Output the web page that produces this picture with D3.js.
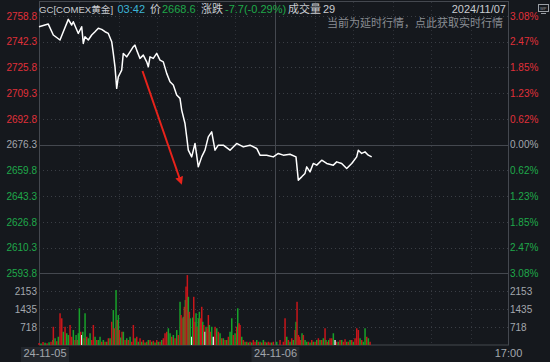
<!DOCTYPE html>
<html><head><meta charset="utf-8">
<script src="https://cdn.jsdelivr.net/npm/d3@7"></script>
<style>
html,body{margin:0;padding:0;background:#15181d;}
svg{display:block;font-family:"Liberation Sans","Noto Sans CJK SC",sans-serif;}
</style></head>
<body>
<svg id="chart" width="550" height="362"></svg>
<script>
// ---------- data ----------
const prevClose = 2676.3;
const priceTicks = [2758.8, 2742.3, 2725.8, 2709.3, 2692.8, 2676.3, 2659.8, 2643.3, 2626.8, 2610.3, 2593.8];
const pctLabels = ["3.08%", "2.47%", "1.85%", "1.23%", "0.62%", "0.00%", "0.62%", "1.23%", "1.85%", "2.47%", "3.08%"];
const volTicks = [2153, 1435, 718];
const dateLabels = ["24-11-05", "24-11-06", "17:00"];
const dateSlots = [0, 236, 469];

// price series: slot index (≈6 min per slot) and price
const priceSlot = [0, 9.3, 14.3, 21, 24.3, 29.3, 32.7, 34.3, 39.3, 42.7, 44.3, 46, 49.3, 52.7, 56, 59.3, 62.7, 66, 69.3, 72.7, 74.3, 76, 77.7, 79.3, 82.7, 84.3, 87.7, 91, 94.3, 96, 97.7, 101, 104.3, 107.7, 109.3, 111, 114.3, 117.7, 121, 124.3, 127.7, 131, 134.3, 137.7, 141, 142.7, 146, 147.7, 149.3, 152.7, 156, 159.3, 162.7, 166, 169.3, 172.7, 176, 179.3, 184.3, 191, 197.7, 204.3, 211, 217.7, 221, 227.7, 234.3, 239.3, 244.3, 251, 257, 259.3, 262.7, 266, 267.7, 271, 274.3, 277.7, 282.7, 287.7, 294.3, 297.7, 302.7, 307.7, 312.7, 317.7, 319.3, 322.7, 326, 329.3, 332.7];
const priceVal = [2751.8, 2753.5, 2746.5, 2743.3, 2748.6, 2756.5, 2752.9, 2755.0, 2747.5, 2751.8, 2741.1, 2745.4, 2743.3, 2746.5, 2748.6, 2750.8, 2750.1, 2748.6, 2747.5, 2742.2, 2734.7, 2726.1, 2712.3, 2719.7, 2724.0, 2734.7, 2732.5, 2735.7, 2739.0, 2740.0, 2736.8, 2731.5, 2733.6, 2729.3, 2726.1, 2732.5, 2731.5, 2734.7, 2730.4, 2729.3, 2721.9, 2716.5, 2714.4, 2708.0, 2705.9, 2698.4, 2689.8, 2681.2, 2672.7, 2668.4, 2677.0, 2662.0, 2668.4, 2672.7, 2681.2, 2684.4, 2672.7, 2675.9, 2675.9, 2672.7, 2677.0, 2674.8, 2675.9, 2673.8, 2669.5, 2669.5, 2668.4, 2670.6, 2669.5, 2670.1, 2668.4, 2653.5, 2655.6, 2657.8, 2662.0, 2658.8, 2664.2, 2663.1, 2666.3, 2664.2, 2663.1, 2665.2, 2664.2, 2661.0, 2664.2, 2668.4, 2672.7, 2670.6, 2671.6, 2669.5, 2668.4];

// volume series: slot index, volume, direction (u = up, d = down, f = flat)
const volSlot = [0, 2, 4, 6, 8, 10, 12, 13.7, 14.3, 16, 17.7, 19.3, 21, 22.7, 24.3, 26, 27.7, 29.3, 31, 32.7, 34.3, 36, 37, 38.3, 39.3, 40.3, 41.7, 42.7, 43.7, 45, 46, 47.7, 49.3, 51, 52.7, 54.3, 56, 57.7, 59.3, 61, 62.7, 64.3, 66, 67.7, 69.3, 71, 72.7, 74.3, 75.3, 77, 78.3, 79.3, 80.3, 81.7, 83, 84.3, 86, 87.7, 89.3, 91, 92.7, 94.3, 96, 97.7, 99.3, 101, 102.7, 104.3, 106, 107.7, 109.3, 111, 112.7, 114.3, 116, 117.7, 119.3, 121, 122.7, 124.3, 126, 127.7, 129.3, 131, 132.7, 134.3, 136, 137.7, 139.3, 141, 142, 143, 144.3, 145.3, 146.3, 147, 148.3, 149.3, 150.3, 151.3, 152.7, 153.7, 154.7, 156, 157, 158, 159.3, 160.3, 161.3, 162.7, 163.7, 164.7, 166, 167, 168, 169.3, 170.3, 171.3, 172.7, 174.3, 176, 177.7, 179.3, 181, 182.7, 184.3, 186, 187.7, 189.3, 191, 192.7, 194.3, 196, 197.7, 198.7, 200, 201, 202.7, 204.3, 206, 207.7, 209.3, 211, 212.7, 214.3, 216, 217.7, 219.3, 221, 222.7, 224.3, 226, 227.7, 229.3, 231, 232.7, 234.3, 237.7, 241, 244.3, 246, 247.7, 249.3, 251, 252.7, 254.3, 256, 257, 258, 259.3, 260.3, 261.7, 263, 264.3, 266, 267.7, 269.3, 271, 272.7, 274.3, 276, 277.7, 279.3, 281, 282.7, 284.3, 286, 287, 288.3, 289.7, 291, 292.7, 294.3, 296, 297.7, 299.3, 301, 302.7, 304.3, 306, 307.7, 309.3, 311, 312.7, 314.3, 316, 317.7, 319.3, 321, 322.7, 324.3, 326, 327.7, 329.3, 331, 332.7];
const volVal = [80, 60, 120, 90, 70, 110, 130, 200, 730, 270, 150, 330, 1270, 1070, 530, 730, 470, 400, 800, 330, 600, 200, 400, 200, 470, 1470, 530, 400, 530, 270, 1270, 330, 270, 470, 200, 800, 330, 200, 200, 330, 130, 200, 130, 130, 270, 270, 930, 1400, 670, 2200, 1000, 1200, 600, 300, 530, 530, 200, 270, 200, 330, 130, 800, 270, 330, 130, 270, 130, 200, 100, 130, 200, 200, 130, 170, 100, 200, 130, 130, 200, 270, 470, 530, 670, 470, 330, 400, 270, 600, 400, 1730, 1200, 1070, 1130, 1530, 1800, 2340, 2800, 1930, 1330, 1070, 330, 1100, 1930, 930, 1270, 730, 1070, 1330, 1070, 1530, 930, 800, 530, 730, 670, 1200, 800, 530, 730, 330, 730, 670, 530, 470, 270, 270, 200, 200, 330, 530, 1070, 400, 470, 730, 1470, 870, 800, 330, 200, 130, 130, 100, 130, 100, 200, 130, 200, 130, 130, 100, 200, 130, 100, 130, 100, 100, 130, 130, 200, 130, 1070, 330, 200, 130, 270, 200, 600, 930, 1730, 400, 330, 200, 470, 400, 200, 130, 130, 100, 200, 130, 130, 200, 270, 200, 200, 270, 670, 200, 130, 200, 270, 270, 470, 200, 130, 130, 200, 200, 130, 230, 130, 130, 200, 200, 130, 270, 670, 600, 270, 200, 130, 670, 330, 270, 130];
const volDir = ["u","d","u","d","u","d","u","d","u","d","u","d","u","u","d","u","d","d","u","u","d","u","d","u","d","d","u","f","d","u","d","u","d","d","u","u","d","u","d","d","u","d","u","d","u","d","u","d","u","d","u","d","u","d","u","d","u","d","u","d","u","u","d","u","d","u","d","u","d","u","d","u","d","u","d","u","d","u","d","u","u","u","d","d","u","d","u","d","u","d","u","u","d","u","d","u","u","d","u","d","f","d","u","u","d","u","d","d","u","u","d","u","f","d","u","u","d","u","d","f","u","d","u","d","u","d","u","d","u","d","d","u","d","u","d","u","u","d","u","d","u","d","u","d","u","u","d","u","d","u","d","u","d","u","u","d","u","d","u","u","u","d","u","d","u","d","u","d","u","u","u","u","d","u","d","d","u","d","u","d","u","d","u","d","u","d","u","d","u","d","r","u","d","f","u","d","u","d","u","u","d","u","d","u","d","u","u","u","d","u","d","d","u","d","u"];

// ---------- drawing ----------
const W = 550, H = 362;
const L = 39, R = 508;
const C = {bg:"#15181d", grid:"#3a3e45", solid:"#44484f", red:"#e0303a", green:"#1fa84a", grey:"#a3a7ad", txt:"#c9ccd1"};
const svg = d3.select("#chart");
svg.append("rect").attr("width", W).attr("height", H).attr("fill", C.bg);

const x = d3.scaleLinear().domain([0, 469]).range([L, R]);
const yP = d3.scaleLinear().domain([2593.8, 2758.8]).range([273.3, 15.8]);
const yV = d3.scaleLinear().domain([0, 2871]).range([345, 273.3]);

const colorFor = v => Math.abs(v - prevClose) < 0.01 ? C.grey : (v > prevClose ? C.red : C.green);

// frame
const g = svg.append("g");
g.append("rect").attr("x", L + 0.5).attr("y", 1.5).attr("width", R - L).attr("height", 343.5)
  .attr("fill", "none").attr("stroke", C.solid).attr("stroke-width", 1);

// horizontal grid
priceTicks.forEach(v => {
  const solid = (v === prevClose || v === 2593.8);
  g.append("line").attr("x1", L).attr("x2", R)
    .attr("y1", Math.round(yP(v)) + 0.5).attr("y2", Math.round(yP(v)) + 0.5)
    .attr("stroke", solid ? C.solid : C.grid)
    .attr("stroke-dasharray", solid ? null : "1,3");
});
volTicks.forEach(v => {
  g.append("line").attr("x1", L).attr("x2", R)
    .attr("y1", Math.round(yV(v)) + 0.5).attr("y2", Math.round(yV(v)) + 0.5)
    .attr("stroke", C.grid).attr("stroke-dasharray", "1,3");
});
// vertical grid
const vDots = [40, 80, 118, 158, 196, 276, 314, 354, 392, 432];
vDots.forEach(s => {
  g.append("line").attr("x1", Math.round(x(s)) + 0.5).attr("x2", Math.round(x(s)) + 0.5)
    .attr("y1", 2).attr("y2", 345).attr("stroke", C.grid).attr("stroke-dasharray", "1,3").attr("opacity", 0.7);
});
g.append("line").attr("x1", Math.round(x(236)) + 0.5).attr("x2", Math.round(x(236)) + 0.5)
  .attr("y1", 2).attr("y2", 345).attr("stroke", C.solid);

// volume bars
const volColor = {u: "#c8161b", d: "#17a22a", f: "#e8e8e8", r: "#c8161b"};
svg.append("g").selectAll("rect").data(volSlot).join("rect")
  .attr("x", (d) => x(d) - 0.7)
  .attr("width", 1.5)
  .attr("y", (d, i) => yV(volVal[i]))
  .attr("height", (d, i) => yV(0) - yV(volVal[i]))
  .attr("fill", (d, i) => volColor[volDir[i]]);

// price line
const line = d3.line().x((d) => x(d)).y((d, i) => yP(priceVal[i])).curve(d3.curveLinear);
svg.append("path").datum(priceSlot).attr("d", line)
  .attr("fill", "none").attr("stroke", "#ffffff").attr("stroke-width", 1.5).attr("stroke-linejoin", "round");

// left price axis
const axL = svg.append("g").attr("transform", `translate(${L - 2},0)`)
  .call(d3.axisLeft(yP).tickValues(priceTicks).tickSize(0).tickPadding(0).tickFormat(d3.format(".1f")));
axL.select(".domain").remove();
axL.selectAll("text").attr("font-size", 10).attr("font-family", "Liberation Sans, sans-serif")
  .attr("fill", d => colorFor(d));

// right percent axis
const axR = svg.append("g").attr("transform", `translate(${R + 2},0)`)
  .call(d3.axisRight(yP).tickValues(priceTicks).tickSize(0).tickPadding(0).tickFormat((d, i) => pctLabels[i]));
axR.select(".domain").remove();
axR.selectAll("text").attr("font-size", 10).attr("font-family", "Liberation Sans, sans-serif")
  .attr("fill", d => colorFor(d));

// volume axes
const axVL = svg.append("g").attr("transform", `translate(${L - 2},0)`)
  .call(d3.axisLeft(yV).tickValues(volTicks).tickSize(0).tickPadding(0).tickFormat(d3.format("d")));
axVL.select(".domain").remove();
axVL.selectAll("text").attr("font-size", 10).attr("fill", C.grey);
const axVR = svg.append("g").attr("transform", `translate(${R + 2},0)`)
  .call(d3.axisRight(yV).tickValues(volTicks).tickSize(0).tickPadding(0).tickFormat(d3.format("d")));
axVR.select(".domain").remove();
axVR.selectAll("text").attr("font-size", 10).attr("fill", C.grey);

// bottom date axis
const axB = svg.append("g").attr("transform", `translate(0,346)`)
  .call(d3.axisBottom(x).tickValues(dateSlots).tickSize(0).tickPadding(3).tickFormat((d, i) => dateLabels[i]));
axB.select(".domain").remove();
axB.selectAll(".tick").each(function(d, i) {
  const t = d3.select(this);
  if (i === 0) t.select("text").attr("dx", 5.5);
  if (i < 2) {
    t.insert("rect", "text").attr("x", (i === 0 ? 5.5 : 0) - 24).attr("y", 1).attr("width", 48).attr("height", 15).attr("fill", "#22262c");
  }
});
axB.selectAll("text").attr("font-size", 11).attr("fill", C.grey);

// header
const hdr = svg.append("g").attr("font-size", 11);
const parts = [
  {t: "GC[COMEX黄金]", x: 39, c: C.txt, fs: 9.6},
  {t: "03:42", x: 117.5, c: "#3cb5d6"},
  {t: "价", x: 150, c: C.txt},
  {t: "2668.6", x: 162, c: C.green},
  {t: "涨跌", x: 201, c: C.txt},
  {t: "-7.7(-0.29%)", x: 225, c: C.green},
  {t: "成交量", x: 288, c: C.txt},
  {t: "29", x: 323, c: C.txt}
];
parts.forEach(p => {
  const t = hdr.append("text").attr("x", p.x).attr("y", 13).attr("fill", p.c).text(p.t);
  if (p.fs) t.attr("font-size", p.fs);
});
hdr.append("text").attr("x", 506).attr("y", 13).attr("text-anchor", "end").attr("fill", C.txt).text("2024/11/07");
svg.append("text").attr("x", 503).attr("y", 27).attr("text-anchor", "end").attr("font-size", 11)
  .attr("fill", "#8a8e94").text("当前为延时行情，点此获取实时行情");
// small monitor icon
const ic = svg.append("g").attr("stroke", "#9a9ea4").attr("fill", "none");
ic.append("rect").attr("x", 538.5).attr("y", 4.5).attr("width", 10).attr("height", 7);
ic.append("line").attr("x1", 541).attr("x2", 546).attr("y1", 13.5).attr("y2", 13.5);
svg.append("text").attr("x", 540).attr("y", 10).attr("font-size", 4).attr("fill", "#9a9ea4").text("WP");

// red annotation arrow
svg.append("defs").append("marker").attr("id", "ah").attr("viewBox", "0 0 10 10")
  .attr("refX", 5).attr("refY", 5).attr("markerWidth", 4).attr("markerHeight", 4).attr("orient", "auto")
  .append("path").attr("d", "M0,0 L10,5 L0,10 z").attr("fill", "#e8231b");
svg.append("line").attr("x1", 142.5).attr("y1", 71).attr("x2", 180.5).attr("y2", 181)
  .attr("stroke", "#e8231b").attr("stroke-width", 2).attr("marker-end", "url(#ah)");
</script>
</body></html>
